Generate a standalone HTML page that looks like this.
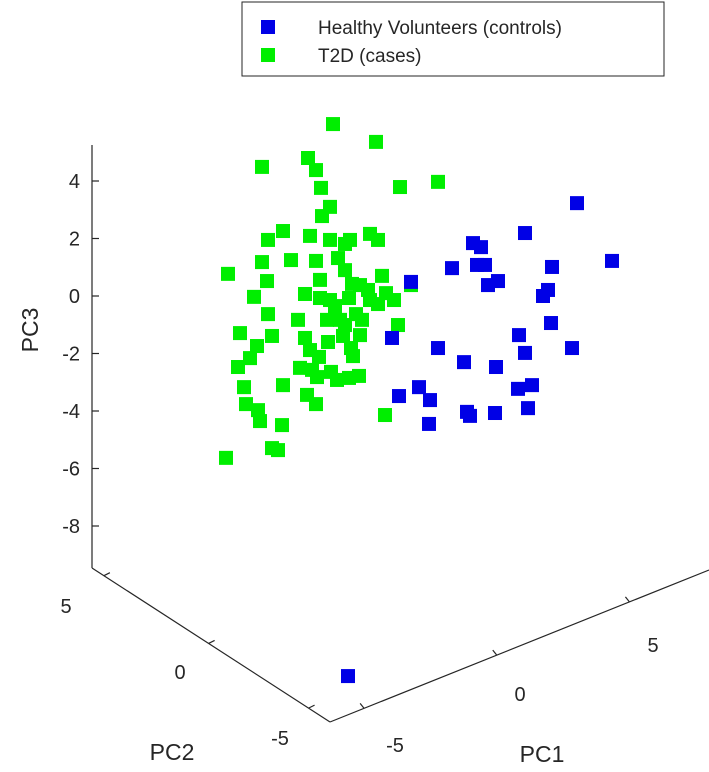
<!DOCTYPE html>
<html><head><meta charset="utf-8"><style>
body{margin:0;background:#fff;}
svg{display:block;font-family:"Liberation Sans",Arial,sans-serif;}
</style></head><body>
<svg id="chart" width="709" height="772" viewBox="0 0 709 772">
<g stroke="#262626" stroke-width="1.2" fill="none">
<line x1="92" y1="145" x2="92" y2="568"/>
<line x1="92" y1="568" x2="330" y2="722"/>
<line x1="330" y1="722" x2="709" y2="570"/>
</g>
<g id="ticks" stroke="#262626" stroke-width="1.2"></g>
<g id="ticklabels" font-size="20" fill="#262626"></g>
<text x="0" y="0" font-size="23" fill="#262626" text-anchor="middle" transform="translate(38,330) rotate(-90)">PC3</text>
<text x="172" y="760" font-size="23" fill="#262626" text-anchor="middle">PC2</text>
<text x="542" y="762" font-size="23" fill="#262626" text-anchor="middle">PC1</text>
<g id="points"></g>
<g>
<rect x="242" y="2" width="422" height="74" fill="#fff" stroke="#262626" stroke-width="1"/>
<rect x="261" y="20" width="14" height="14" fill="#0000e6"/>
<text x="318" y="34" font-size="19" fill="#262626">Healthy Volunteers (controls)</text>
<rect x="261" y="48" width="14" height="14" fill="#00ee00"/>
<text x="318" y="62" font-size="19" fill="#262626">T2D (cases)</text>
</g>
</svg>
<script>
const pc3Ticks = [4, 2, 0, -2, -4, -6, -8];
const pc2TickLabels = ["5", "0", "-5"];
const pc1TickLabels = ["-5", "0", "5"];
const greenH = [0.15,2.3,-3.4,-1.1,-0.7,-0.45,3.5,5.4,-0.4,0,-5.1,-3.1,-2.35,-1,0,0.75,2,2.4,4.05,-3.4,-1.95,-3.8,-3.15,-4.5,-3.1,-1.6,-4.6,-4,-4.3,-3.65,-2.9,-1.25,-0.1,-1,-0.55,0.65,-1.5,1.15,1.45,-0.9,0.05,-2.35,-4.2,-3.6,-3.5,-2.4,-1.15,-0.65,0.35,0.95,0.4,0.75,1.1,1.5,1.9,2,2.6,2.8,0.95,0.25,-0.5,-0.15,0.5,1.3,1.6,2.4,3.2,3.4,-5.2,-2.6,-2.9,1.05,-0.5,-1.25,1,-0.7,2.75,-0.7,0,0.75,1.5];
const greenPC3 = [5.98,5.36,4.49,4.8,4.38,3.76,3.79,3.97,2.78,3.1,0.77,1.95,2.26,2.09,1.95,1.81,2.16,1.95,0.38,1.18,1.25,-0.03,0.52,-1.29,-0.63,-0.83,-2.47,-2.16,-3.17,-1.74,-1.39,-1.46,-1.6,-1.88,-2.12,-1.39,-2.5,-2.09,-2.78,-2.57,-2.64,-3.1,-3.76,-3.97,-4.35,-4.49,-3.44,-2.82,-2.92,-2.85,1.32,0.9,0.42,0.38,0.21,-0.14,0.7,0.1,-0.07,-0.35,-0.07,-0.83,-0.83,-0.63,-0.83,-0.28,-0.14,-1.01,-5.63,-5.36,-5.29,-1.81,0.56,0.07,1.95,1.22,-4.14,-3.76,-0.14,-1.01,-1.36];
const blueH = [12.35,9.75,7.15,7.55,14.1,6.1,7.35,7.75,11.1,4.05,8.4,7.9,10.9,10.65,11.05,9.45,3.1,12.1,5.4,9.75,6.7,8.3,10.1,9.4,4.45,5,3.45,9.9,6.85,8.25,7,4.95,0.9];
const bluePC3 = [3.23,2.19,1.84,1.7,1.22,0.97,1.08,1.08,1.01,0.49,0.52,0.38,0.21,0,-0.94,-1.36,-1.46,-1.81,-1.81,-1.98,-2.3,-2.47,-3.1,-3.23,-3.17,-3.62,-3.48,-3.9,-4.03,-4.07,-4.17,-4.45,-13.22];

const NS = "http://www.w3.org/2000/svg";
function xScale(h){ return 330 + h * 20; }
function yScale(v){ return 296 - v * 28.75; }
function mk(tag, attrs, parent){ const e = document.createElementNS(NS, tag); for (const k in attrs) e.setAttribute(k, attrs[k]); parent.appendChild(e); return e; }

const tl = document.getElementById('ticklabels');
const tk = document.getElementById('ticks');
pc3Ticks.forEach(v => {
  const t = mk('text', {x: 80, y: yScale(v) + 7, 'text-anchor': 'end'}, tl);
  
  
  t.textContent = v;
  const l = mk('line', {x1: 92, y1: yScale(v), x2: 99, y2: yScale(v)}, tk);
  
  
});
const pc2Pos = [[66,613],[180,679],[280,745]];
const pc2Frac = [0.05, 0.49, 0.91];
pc2TickLabels.forEach((s, i) => {
  const t = mk('text', {x: pc2Pos[i][0], y: pc2Pos[i][1], 'text-anchor': 'middle'}, tl);
  
  
  t.textContent = s;
  const px = 92 + (330 - 92) * pc2Frac[i], py = 568 + (722 - 568) * pc2Frac[i];
  const l = mk('line', {x1: px, y1: py, x2: px + 6, y2: py - 3}, tk);
  
  
});
const pc1Pos = [[395,752],[520,701],[653,652]];
const pc1Frac = [0.09, 0.44, 0.79];
pc1TickLabels.forEach((s, i) => {
  const t = mk('text', {x: pc1Pos[i][0], y: pc1Pos[i][1], 'text-anchor': 'middle'}, tl);
  
  
  t.textContent = s;
  const px = 330 + (709 - 330) * pc1Frac[i], py = 722 + (570 - 722) * pc1Frac[i];
  const l = mk('line', {x1: px, y1: py, x2: px - 4, y2: py - 5}, tk);
  
  
});

const pts = document.getElementById('points');
greenH.forEach((h, i) => {
  const r = mk('rect', {x: xScale(h) - 7, y: yScale(greenPC3[i]) - 7, width: 14, height: 14, fill: '#00ee00'}, pts);
  
  
});
blueH.forEach((h, i) => {
  const r = mk('rect', {x: xScale(h) - 7, y: yScale(bluePC3[i]) - 7, width: 14, height: 14, fill: '#0000e6'}, pts);
  
  
});
</script>
</body></html>
